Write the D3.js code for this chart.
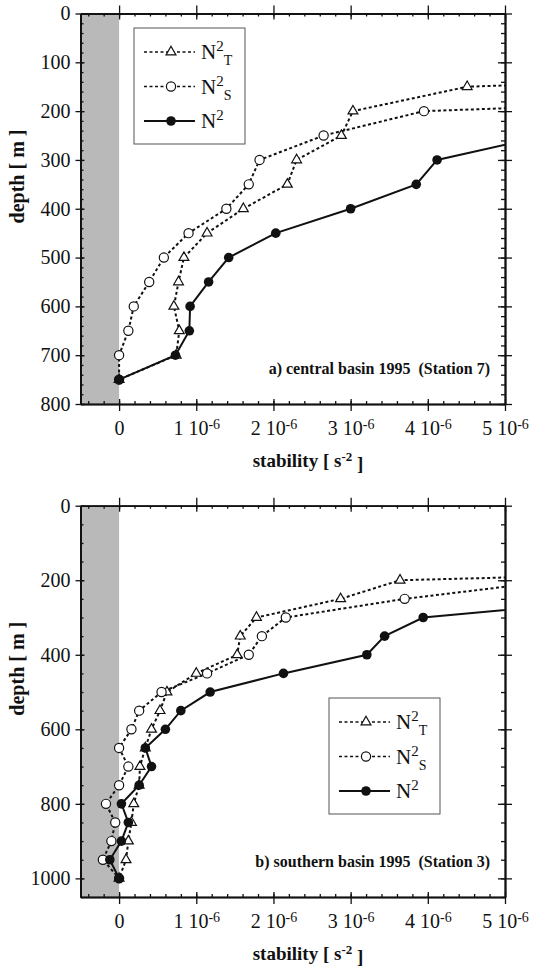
<!DOCTYPE html>
<html>
<head>
<meta charset="utf-8">
<script src="https://cdn.jsdelivr.net/npm/d3@7"></script>
<style>
  body { margin: 0; background: #fff; }
  svg { display: block; }
  svg text { font-family: "Liberation Serif", "Times New Roman", Tinos, "Nimbus Roman", "DejaVu Serif", "Noto Serif", serif !important; fill: #111; }
</style>
</head>
<body>
<div id="viz"></div>
<script>
// stability values in units of 1e-6 s^-2
// panel a) central basin 1995 (Station 7)
var depthsA = [100, 150, 200, 250, 300, 350, 400, 450, 500, 550, 600, 650, 700, 750];
var n2tA = [14.0, 4.51, 3.03, 2.88, 2.30, 2.18, 1.61, 1.14, 0.84, 0.77, 0.71, 0.78, 0.74, 0];
var n2sA = [null, 13.0, 3.95, 2.65, 1.82, 1.68, 1.39, 0.90, 0.58, 0.39, 0.19, 0.12, 0, 0];
var n2A  = [null, null, 6.98, 5.53, 4.12, 3.85, 3.00, 2.03, 1.42, 1.16, 0.92, 0.91, 0.73, 0];

// panel b) southern basin 1995 (Station 3)
var depthsB = [150, 200, 250, 300, 350, 400, 450, 500, 550, 600, 650, 700, 750, 800, 850, 900, 950, 1000];
var n2tB = [13.0, 3.64, 2.87, 1.78, 1.57, 1.53, 1.00, 0.62, 0.53, 0.42, 0.34, 0.27, 0.26, 0.19, 0.16, 0.12, 0.09, 0];
var n2sB = [null, 5.7, 3.70, 2.16, 1.85, 1.68, 1.14, 0.55, 0.26, 0.16, 0.0, 0.12, 0.0, -0.17, -0.05, -0.10, -0.21, 0];
var n2B  = [null, 9.3, 6.57, 3.94, 3.44, 3.21, 2.13, 1.18, 0.80, 0.60, 0.34, 0.42, 0.26, 0.03, 0.12, 0.03, -0.12, 0];

var xMajor = [0, 1, 2, 3, 4, 5];
var xMinor = d3.range(-0.4, 5, 0.2).map(function(v){ return Math.round(v*10)/10; });
var yMajorA = d3.range(0, 801, 100);
var yMinorA = d3.range(0, 801, 20);
var yMajorB = d3.range(0, 1001, 200);
var yMinorB = d3.range(0, 1051, 50);

var legendNames = [["T"], ["S"], [""]];

var w = 533, h = 967;
var serif = '"Liberation Serif", "Times New Roman", Tinos, "Nimbus Roman", "DejaVu Serif", "Noto Serif", serif';

var svg = d3.select("#viz").append("svg")
            .attr("width", w)
            .attr("height", h);

var x = d3.scaleLinear().domain([-0.5, 5]).range([80.5, 505]);

function drawPanel(id, depths, t, s, n, yDomain, yRange, yMajor, yMinor, legendPos, caption) {
  var y = d3.scaleLinear().domain(yDomain).range(yRange);
  var g = svg.append("g");
  var x0 = x.range()[0], x1 = x.range()[1];
  var y0 = y.range()[0], y1 = y.range()[1];

  g.append("clipPath").attr("id", id)
   .append("rect").attr("x", x0).attr("y", y0).attr("width", x1 - x0).attr("height", y1 - y0);

  // negative stability shading
  g.append("rect")
   .attr("x", x(-0.5)).attr("y", y0)
   .attr("width", x(0) - x(-0.5)).attr("height", y1 - y0)
   .style("fill", "#b9b9b9");

  var plot = g.append("g").attr("clip-path", "url(#" + id + ")");

  function pts(vals) {
    return depths.map(function(d, i){ return {d: d, v: vals[i]}; })
                 .filter(function(p){ return p.v !== null; });
  }
  var line = d3.line().x(function(p){ return x(p.v); }).y(function(p){ return y(p.d); });

  plot.append("path").datum(pts(t)).attr("d", line)
      .style("fill", "none").style("stroke", "#111").style("stroke-width", 2).style("stroke-dasharray", "3,2.5");
  plot.append("path").datum(pts(s)).attr("d", line)
      .style("fill", "none").style("stroke", "#111").style("stroke-width", 2).style("stroke-dasharray", "3,2.5");
  plot.append("path").datum(pts(n)).attr("d", line)
      .style("fill", "none").style("stroke", "#111").style("stroke-width", 2);

  var tri = d3.symbol().type(d3.symbolTriangle).size(42);
  plot.selectAll(".tri").data(pts(t)).enter().append("path")
      .attr("transform", function(p){ return "translate(" + x(p.v) + "," + y(p.d) + ")"; })
      .attr("d", tri)
      .style("fill", "#fff").style("stroke", "#111").style("stroke-width", 1.2);
  plot.selectAll(".circ").data(pts(s)).enter().append("circle")
      .attr("cx", function(p){ return x(p.v); }).attr("cy", function(p){ return y(p.d); })
      .attr("r", 4.6)
      .style("fill", "#fff").style("stroke", "#111").style("stroke-width", 1.2);
  plot.selectAll(".dot").data(pts(n)).enter().append("circle")
      .attr("cx", function(p){ return x(p.v); }).attr("cy", function(p){ return y(p.d); })
      .attr("r", 4.8)
      .style("fill", "#111");

  // axes: major ticks cross the frame, minor ticks point inward
  var ax = g.append("g");
  function add(tr, axis) {
    var a = ax.append("g").attr("transform", tr).call(axis).attr("font-family", serif);
    a.select(".domain").style("stroke-width", 1.6).style("stroke", "#111");
    a.selectAll(".tick line").style("stroke-width", 1.3).style("stroke", "#111");
    return a;
  }
  var left = add("translate(" + x0 + ",0)", d3.axisLeft(y).tickValues(yMajor).tickFormat(d3.format("d"))
                 .tickSize(5).tickSizeOuter(0).tickPadding(5));
  left.selectAll(".tick text").style("font-size", "20px").style("fill", "#111");
  add("translate(" + x0 + ",0)", d3.axisRight(y).tickValues(yMajor).tickSize(4).tickSizeOuter(0).tickFormat(""));
  add("translate(" + x0 + ",0)", d3.axisRight(y).tickValues(yMinor).tickSize(3).tickSizeOuter(0).tickFormat(""));
  add("translate(" + x1 + ",0)", d3.axisRight(y).tickValues(yMajor).tickSize(7).tickSizeOuter(0).tickFormat(""));
  add("translate(" + x1 + ",0)", d3.axisLeft(y).tickValues(yMajor).tickSize(7).tickSizeOuter(0).tickFormat(""));
  add("translate(" + x1 + ",0)", d3.axisLeft(y).tickValues(yMinor).tickSize(4).tickSizeOuter(0).tickFormat(""));

  var bottom = add("translate(0," + y1 + ")", d3.axisBottom(x).tickValues(xMajor).tickSize(7).tickSizeOuter(0).tickPadding(10));
  add("translate(0," + y1 + ")", d3.axisTop(x).tickValues(xMajor).tickSize(5).tickSizeOuter(0).tickFormat(""));
  add("translate(0," + y1 + ")", d3.axisTop(x).tickValues(xMinor).tickSize(3).tickSizeOuter(0).tickFormat(""));
  add("translate(0," + y0 + ")", d3.axisTop(x).tickValues(xMajor).tickSize(8).tickSizeOuter(0).tickFormat(""));
  add("translate(0," + y0 + ")", d3.axisBottom(x).tickValues(xMajor).tickSize(6).tickSizeOuter(0).tickFormat(""));
  add("translate(0," + y0 + ")", d3.axisBottom(x).tickValues(xMinor).tickSize(3).tickSizeOuter(0).tickFormat(""));

  bottom.selectAll(".tick text").each(function(v){
    var el = d3.select(this).text(null)
               .style("font-size", "20px").style("fill", "#111");
    if (v === 0) { el.text("0"); return; }
    el.append("tspan").text(v + " 10");
    el.append("tspan").attr("dy", "-0.45em").style("font-size", "14px").text("-6");
  });

  // axis titles
  var xt = g.append("text")
            .attr("x", 308).attr("y", y1 + 63)
            .attr("text-anchor", "middle")
            .style("font-size", "19px").style("font-weight", "bold");
  xt.append("tspan").text("stability [ s");
  xt.append("tspan").attr("dy", "-0.45em").style("font-size", "13px").text("-2");
  xt.append("tspan").attr("dy", "0.45em").text(" ]");

  g.append("text")
   .attr("transform", "translate(24," + (y0 + 163) + ") rotate(-90)")
   .attr("text-anchor", "middle")
   .style("font-size", "20px").style("font-weight", "bold")
   .text("depth [ m ]");

  // caption
  g.append("text")
   .attr("x", 490).attr("y", caption.y)
   .attr("text-anchor", "end")
   .style("font-size", "16px").style("font-weight", "bold")
   .style("white-space", "pre")
   .text(caption.text);

  // legend
  var lg = g.append("g").attr("transform", "translate(" + legendPos[0] + "," + legendPos[1] + ")");
  lg.append("rect").attr("x", 0).attr("y", 0).attr("width", 111).attr("height", 116)
    .style("fill", "#fff").style("stroke", "#555").style("stroke-width", 1);
  var rows = lg.selectAll("g.legend").data(legendNames).enter().append("g")
               .attr("class", "legend")
               .attr("transform", function(d, i){ return "translate(0," + (24 + i*34.5) + ")"; });
  rows.append("line").attr("x1", 10).attr("x2", 61).attr("y1", 0).attr("y2", 0)
      .style("stroke", "#111").style("stroke-width", function(d, i){ return i === 2 ? 2 : 1.6; })
      .style("stroke-dasharray", function(d, i){ return i === 2 ? null : "3,2.5"; });
  rows.each(function(d, i){
    var r = d3.select(this);
    if (i === 0) {
      r.append("path").attr("transform", "translate(37,0)").attr("d", tri)
       .style("fill", "#fff").style("stroke", "#111").style("stroke-width", 1.2);
    } else if (i === 1) {
      r.append("circle").attr("cx", 37).attr("cy", 0).attr("r", 4.6)
       .style("fill", "#fff").style("stroke", "#111").style("stroke-width", 1.2);
    } else {
      r.append("circle").attr("cx", 37).attr("cy", 0).attr("r", 4.8).style("fill", "#111");
    }
    var tx = r.append("text").attr("x", 67).attr("y", 7).style("font-size", "21px");
    tx.append("tspan").text("N");
    tx.append("tspan").attr("dy", -8).style("font-size", "15px").text("2");
    if (d[0] !== "") {
      tx.append("tspan").attr("dy", 14).style("font-size", "14px").text(d[0]);
    }
  });
}

drawPanel("clipA", depthsA, n2tA, n2sA, n2A, [0, 800], [13.5, 404], yMajorA, yMinorA,
          [134, 28], {text: "a) central basin 1995  (Station 7)", y: 374});
drawPanel("clipB", depthsB, n2tB, n2sB, n2B, [0, 1050], [505.7, 897], yMajorB, yMinorB,
          [329, 698], {text: "b) southern basin 1995  (Station 3)", y: 867});
</script>
</body>
</html>
